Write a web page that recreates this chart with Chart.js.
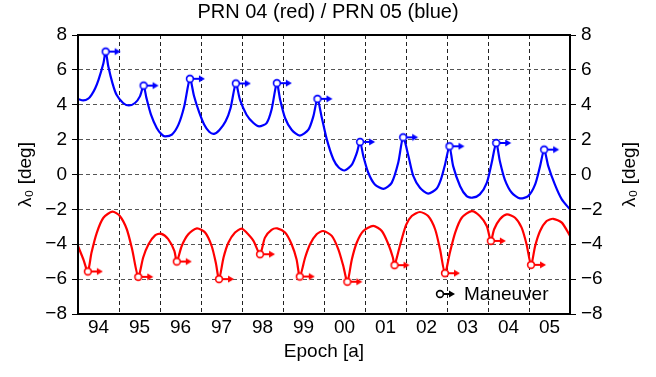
<!DOCTYPE html>
<html>
<head>
<meta charset="utf-8">
<script src="https://cdn.jsdelivr.net/npm/chart.js@4.4.1/dist/chart.umd.min.js"></script>
<style>
  html, body { margin: 0; padding: 0; background: #fff; }
  #wrap { width: 656px; height: 377px; }
</style>
</head>
<body>
<div id="wrap"><canvas id="chart" width="656" height="377"></canvas></div>
<script>
// year tick labels (grid at year boundaries, labels mid-year)
const yearTicks = [1994, 1995, 1996, 1997, 1998, 1999, 2000, 2001, 2002, 2003, 2004, 2005, 2006];
const yearLabels = ['94', '95', '96', '97', '98', '99', '00', '01', '02', '03', '04', '05', ''];
const lambdaTicks = [-8, -6, -4, -2, 0, 2, 4, 6, 8];

// PRN 05 (blue)
const blueEpoch = [
  1994.00, 1994.13, 1994.25, 1994.33, 1994.42, 1994.50, 1994.62, 1994.675,
  1994.74, 1994.84, 1994.94, 1995.10, 1995.24, 1995.39, 1995.51, 1995.60,
  1995.67, 1995.78, 1995.92, 1996.04, 1996.12, 1996.29, 1996.45, 1996.59, 1996.73,
  1996.83, 1996.95, 1997.08, 1997.20, 1997.32, 1997.45, 1997.60, 1997.72, 1997.85,
  1997.95, 1998.11, 1998.28, 1998.42, 1998.60, 1998.72, 1998.85,
  1998.93, 1999.05, 1999.21, 1999.41, 1999.62, 1999.74, 1999.84,
  1999.94, 2000.07, 2000.23, 2000.36, 2000.50, 2000.68, 2000.80, 2000.88,
  2000.96, 2001.08, 2001.24, 2001.45, 2001.65, 2001.81, 2001.93,
  2002.06, 2002.18, 2002.34, 2002.54, 2002.75, 2002.85, 2002.95, 2003.06,
  2003.15, 2003.32, 2003.48, 2003.62, 2003.80, 2003.97, 2004.09, 2004.20,
  2004.29, 2004.41, 2004.58, 2004.78, 2004.98, 2005.15, 2005.27, 2005.37,
  2005.47, 2005.63, 2005.80, 2006.00
];
const blueLambda = [
  4.33, 4.25, 4.35, 4.57, 4.95, 5.43, 6.38, 7.05,
  6.19, 5.24, 4.57, 4.10, 3.96, 4.10, 4.48, 5.10,
  4.38, 3.43, 2.67, 2.30, 2.19, 2.29, 2.86, 3.90, 5.49,
  4.50, 3.60, 2.85, 2.45, 2.33, 2.55, 3.05, 3.80, 5.22,
  4.29, 3.43, 2.95, 2.76, 2.95, 3.71, 5.24,
  4.29, 3.24, 2.57, 2.23, 2.57, 3.33, 4.34,
  3.33, 2.00, 0.86, 0.40, 0.23, 0.57, 1.24, 1.87,
  1.05, 0.10, -0.57, -0.82, -0.48, 0.67, 2.13,
  1.05, -0.10, -0.76, -1.10, -0.80, -0.30, 0.55, 1.62,
  0.48, -0.67, -1.24, -1.33, -1.14, -0.48, 0.67, 1.81,
  0.76, -0.29, -1.05, -1.37, -1.24, -0.57, 0.48, 1.43,
  0.48, -0.57, -1.43, -2.00
];

// PRN 04 (red)
const redEpoch = [
  1994.00, 1994.13, 1994.24,
  1994.33, 1994.46, 1994.62, 1994.84, 1995.02, 1995.19, 1995.32, 1995.47,
  1995.59, 1995.72, 1995.88, 1996.02, 1996.20, 1996.35, 1996.41,
  1996.53, 1996.69, 1996.90, 1997.10, 1997.26, 1997.36, 1997.44,
  1997.55, 1997.67, 1997.83, 1997.99, 1998.11, 1998.28, 1998.44,
  1998.56, 1998.72, 1998.86, 1999.05, 1999.21, 1999.33, 1999.41,
  1999.54, 1999.66, 1999.82, 1999.98, 2000.19, 2000.35, 2000.47, 2000.57,
  2000.68, 2000.80, 2000.96, 2001.20, 2001.41, 2001.57, 2001.68, 2001.72,
  2001.85, 2002.00, 2002.14, 2002.34, 2002.54, 2002.71, 2002.83, 2002.95,
  2003.07, 2003.20, 2003.36, 2003.60, 2003.80, 2003.97, 2004.07,
  2004.15, 2004.29, 2004.46, 2004.66, 2004.82, 2004.94, 2005.05,
  2005.15, 2005.27, 2005.43, 2005.59, 2005.80, 2006.00
];
const redLambda = [
  -4.10, -4.86, -5.56,
  -4.48, -3.33, -2.48, -2.13, -2.38, -3.14, -4.29, -5.87,
  -4.76, -4.00, -3.49, -3.39, -3.71, -4.38, -4.99,
  -4.10, -3.43, -3.09, -3.33, -4.10, -5.05, -6.00,
  -4.76, -3.90, -3.33, -3.10, -3.33, -3.81, -4.57,
  -3.62, -3.18, -3.09, -3.33, -4.00, -4.86, -5.85,
  -4.76, -4.00, -3.43, -3.24, -3.52, -4.29, -5.24, -6.15,
  -4.86, -3.90, -3.24, -2.95, -3.24, -4.00, -4.76, -5.20,
  -4.10, -2.90, -2.38, -2.15, -2.38, -3.14, -4.29, -5.66,
  -4.48, -3.33, -2.48, -2.10, -2.38, -2.95, -3.81,
  -3.14, -2.57, -2.29, -2.48, -3.05, -4.00, -5.18,
  -4.10, -3.24, -2.67, -2.54, -2.76, -3.52
];

// maneuver epochs
const blueManEpoch = [1994.675, 1995.60, 1996.73, 1997.85, 1998.85, 1999.84, 2000.88, 2001.93, 2003.06, 2004.20, 2005.37];
const blueManLambda = [7.05, 5.10, 5.49, 5.22, 5.24, 4.34, 1.87, 2.13, 1.62, 1.81, 1.43];
const redManEpoch = [1994.24, 1995.47, 1996.41, 1997.44, 1998.44, 1999.41, 2000.57, 2001.72, 2002.95, 2004.07, 2005.05];
const redManLambda = [-5.56, -5.87, -4.99, -6.00, -4.57, -5.85, -6.15, -5.20, -5.66, -3.81, -5.18];

const FONT = 'Liberation Sans, Arial, Helvetica, sans-serif';
const Y_TITLE = '\u03bb\u2080 [deg]';

function pairs(xs, ys) {
  return xs.map((x, i) => ({ x: x, y: ys[i] }));
}

// open circle with an arrow to the right
function maneuverIcon(color) {
  const c = document.createElement('canvas');
  c.width = 32;
  c.height = 12;
  const g = c.getContext('2d');
  g.strokeStyle = color;
  g.fillStyle = color;
  g.lineWidth = 2;
  g.beginPath();
  g.moveTo(20, 6);
  g.lineTo(27, 6);
  g.stroke();
  g.beginPath();
  g.moveTo(31, 6);
  g.lineTo(25, 2.5);
  g.lineTo(25, 9.5);
  g.closePath();
  g.fill();
  g.beginPath();
  g.arc(16, 6, 3.4, 0, Math.PI * 2);
  g.fillStyle = '#fff';
  g.fill();
  g.lineWidth = 1.6;
  g.stroke();
  return c;
}

const blueIcon = maneuverIcon('#0000ff');
const redIcon = maneuverIcon('#ff0000');
const blackIcon = maneuverIcon('#000000');

const framePlugin = {
  id: 'frame',
  afterDraw(chart) {
    const { ctx, chartArea: a } = chart;
    ctx.save();
    ctx.strokeStyle = '#000';
    ctx.lineWidth = 2;
    ctx.strokeRect(a.left, a.top, a.right - a.left, a.bottom - a.top);
    // legend
    ctx.drawImage(blackIcon, 440 - 16, 294 - 6);
    ctx.fillStyle = '#000';
    ctx.font = '19px ' + FONT;
    ctx.textBaseline = 'middle';
    ctx.textAlign = 'left';
    ctx.fillText('Maneuver', 464, 295);
    // right axis title, reading bottom to top like the left one
    ctx.translate(630, (a.top + a.bottom) / 2);
    ctx.rotate(-Math.PI / 2);
    ctx.textAlign = 'center';
    ctx.fillText(Y_TITLE, 0, 0);
    ctx.restore();
  }
};

const yTickCb = (v) => (v < 0 ? '\u2212' + Math.abs(v) : String(v));

new Chart(document.getElementById('chart'), {
  type: 'line',
  data: {
    datasets: [
      {
        label: 'PRN 05 maneuver',
        data: pairs(blueManEpoch, blueManLambda),
        showLine: false,
        pointStyle: blueIcon,
        pointRadius: 6,
        order: -1
      },
      {
        label: 'PRN 04 maneuver',
        data: pairs(redManEpoch, redManLambda),
        showLine: false,
        pointStyle: redIcon,
        pointRadius: 6,
        order: -1
      },
      {
        label: 'PRN 05',
        data: pairs(blueEpoch, blueLambda),
        borderColor: '#0000ff',
        borderWidth: 2.2,
        pointRadius: 0,
        tension: 0.25,
        fill: false
      },
      {
        label: 'PRN 04',
        data: pairs(redEpoch, redLambda),
        borderColor: '#ff0000',
        borderWidth: 2.2,
        pointRadius: 0,
        tension: 0.25,
        fill: false
      }
    ]
  },
  options: {
    responsive: false,
    animation: false,
    events: [],
    layout: { padding: 0 },
    plugins: {
      legend: { display: false },
      tooltip: { enabled: false },
      title: {
        display: true,
        text: 'PRN 04 (red) / PRN 05 (blue)',
        color: '#000',
        font: { family: FONT, size: 20, weight: 'normal' },
        padding: { top: 0, bottom: 11 }
      }
    },
    scales: {
      x: {
        type: 'linear',
        min: 1994,
        max: 2006,
        afterBuildTicks: (s) => { s.ticks = yearTicks.map(v => ({ value: v })); },
        afterFit: (s) => { s.height = 63; },
        ticks: {
          autoSkip: false,
          maxRotation: 0,
          labelOffset: 20.5,
          padding: 2,
          color: '#000',
          font: { family: FONT, size: 19 },
          callback: (v) => yearLabels[yearTicks.indexOf(v)]
        },
        grid: { color: '#222', lineWidth: 1, drawTicks: false },
        border: { color: '#000', width: 2, dash: [4, 3] },
        title: {
          display: true,
          text: 'Epoch [a]',
          color: '#000',
          font: { family: FONT, size: 19 },
          padding: { top: 0, bottom: 14 }
        }
      },
      y: {
        position: 'left',
        min: -8,
        max: 8,
        afterBuildTicks: (s) => { s.ticks = lambdaTicks.map(v => ({ value: v })); },
        afterFit: (s) => { s.width = 78; },
        ticks: { color: '#000', padding: 5, font: { family: FONT, size: 19 }, callback: yTickCb },
        grid: { color: '#555', lineWidth: 1, tickLength: 6, tickColor: '#000' },
        border: { color: '#000', width: 2, dash: [4, 3] },
        title: {
          display: true,
          text: Y_TITLE,
          color: '#000',
          font: { family: FONT, size: 19 },
          padding: { top: 14, bottom: 0 }
        }
      },
      y2: {
        position: 'right',
        min: -8,
        max: 8,
        afterBuildTicks: (s) => { s.ticks = lambdaTicks.map(v => ({ value: v })); },
        afterFit: (s) => { s.width = 86; },
        ticks: { color: '#000', padding: 5, font: { family: FONT, size: 19 }, callback: yTickCb },
        grid: { drawOnChartArea: false, tickLength: 6, tickColor: '#000' },
        border: { color: '#000', width: 2 },
        title: { display: false }
      }
    }
  },
  plugins: [framePlugin]
});
</script>
</body>
</html>
